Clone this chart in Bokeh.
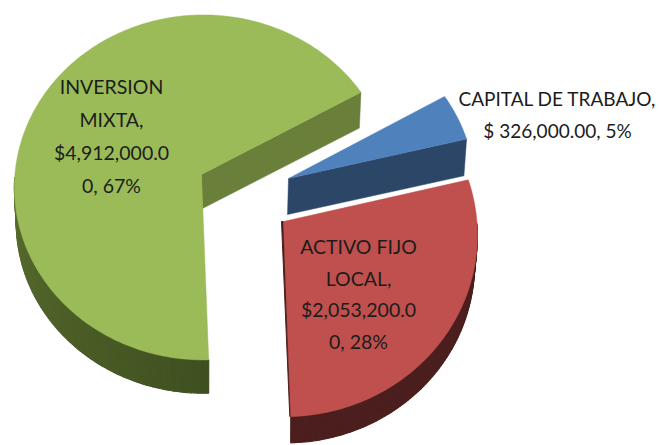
import math
from bokeh.plotting import figure
from bokeh.models import Range1d
from bokeh.core.properties import value
from bokeh.embed import file_html
from bokeh.resources import INLINE

categories = ["CAPITAL DE TRABAJO", "ACTIVO FIJO LOCAL", "INVERSION MIXTA"]
amounts = [326000.00, 2053200.00, 4912000.00]
label_lines = [
    ["CAPITAL DE TRABAJO,", "$ 326,000.00, 5%"],
    ["ACTIVO FIJO", "LOCAL,", "$2,053,200.0", "0, 28%"],
    ["INVERSION", "MIXTA,", "$4,912,000.0", "0, 67%"],
]
top_colors = ["#4F81BD", "#C0504D", "#9BBB59"]
face_colors = ["#2C4668", "#4B1F1E", "#6A7F3A"]
rim_start = ["#2C4668", "#4B1F1E", "#3F5020"]
rim_end = ["#2C4668", "#4B1F1E", "#6A8038"]

# layout of each exploded slice: apex, ellipse radii, extrusion depth
layout = [
    dict(ax=288, ay=178, rx=185, ry=172, depth=36, shrink=0.985),
    dict(ax=283, ay=221, rx=192, ry=181.5, depth=29, shrink=0.985),
    dict(ax=201, ay=174, rx=189, ry=172.5, depth=35, shrink=0.99),
]
# the apex sits off the ellipse centre (perspective), in units of the radii
apex_off = (-0.01, 0.075)
label_pos = [
    dict(x=557, y=98, step=32),
    dict(x=358, y=246, step=31.5),
    dict(x=111, y=86, step=33),
]
label_size = ["19px", "19.5px", "19.5px"]
start_bearing = 60.5

W, H = 659, 445
p = figure(width=W, height=H, output_backend="svg", toolbar_location=None,
           x_range=Range1d(0, W), y_range=Range1d(H, 0),
           min_border=0, outline_line_color=None)
p.axis.visible = False
p.grid.visible = False
p.background_fill_color = "#FFFFFF"
p.border_fill_color = "#FFFFFF"


def pt(g, b, f=1.0, dy=0.0):
    """Rim point of slice g along bearing b, seen from the off-centre apex."""
    dx_, dy_ = math.sin(math.radians(b)), math.cos(math.radians(b))
    ox, oy = apex_off
    proj = ox * dx_ + oy * dy_
    t = -proj + math.sqrt(proj * proj - (ox * ox + oy * oy - 1))
    ux, uy = ox + t * dx_, oy + t * dy_
    cx = g["ax"] - ox * g["rx"]
    cy = g["ay"] + oy * g["ry"]
    return cx + g["rx"] * f * ux, cy - g["ry"] * f * uy + dy


def lerp(a, b, t):
    va = [int(a[i:i + 2], 16) for i in (1, 3, 5)]
    vb = [int(b[i:i + 2], 16) for i in (1, 3, 5)]
    return "#%02X%02X%02X" % tuple(round(x + (y - x) * t) for x, y in zip(va, vb))


total = sum(amounts)
b0 = start_bearing
spans = []
for a in amounts:
    b1 = b0 + 360 * a / total
    spans.append((b0, b1))
    b0 = b1

for i in [2, 0, 1]:
    g, (b_start, b_end) = layout[i], spans[i]
    n = max(int(b_end - b_start), 6)
    angs = [b_start + (b_end - b_start) * k / n for k in range(n + 1)]
    d, sh = g["depth"], g["shrink"]
    # outer rim: only the part that faces the viewer
    for k in range(n):
        if math.cos(math.radians(angs[k])) > 0.0 or math.cos(math.radians(angs[k + 1])) > 0.0:
            continue
        t = k / max(n - 1, 1)
        a0, a1 = pt(g, angs[k]), pt(g, angs[k + 1])
        c0, c1 = pt(g, angs[k], sh, d), pt(g, angs[k + 1], sh, d)
        col = lerp(rim_start[i], rim_end[i], min(1, t * 1.6))
        p.patch([a0[0], a1[0], c1[0], c0[0]], [a0[1], a1[1], c1[1], c0[1]],
                fill_color=col, line_color=col, line_width=1.2)
    # visible cut face: the edge at the slice's end bearing
    apex = (g["ax"], g["ay"])
    e = pt(g, b_end)
    if i == 1:
        p.patch([apex[0] - 2, apex[0], e[0], e[0] - 1],
                [apex[1], apex[1], e[1], e[1]],
                fill_color=face_colors[i], line_color=face_colors[i])
    else:
        eb = pt(g, b_end, sh, d)
        p.patch([apex[0], e[0], eb[0], apex[0] - 1], [apex[1], e[1], eb[1], apex[1] + d],
                fill_color=face_colors[i], line_color=face_colors[i], line_width=0.5)
    # top surface
    xs = [apex[0]] + [pt(g, a)[0] for a in angs]
    ys = [apex[1]] + [pt(g, a)[1] for a in angs]
    p.patch(xs, ys, fill_color=top_colors[i], line_color=top_colors[i], line_width=0.5)

for lines, pos, size in zip(label_lines, label_pos, label_size):
    ys = [pos["y"] + j * pos["step"] for j in range(len(lines))]
    p.text(x=[pos["x"]] * len(lines), y=ys, text=lines, text_align="center",
           text_baseline="middle", text_color="#1C1C1C",
           text_font=value("Lato"), text_font_size=size)

open("out.html", "w").write(file_html(p, INLINE))
